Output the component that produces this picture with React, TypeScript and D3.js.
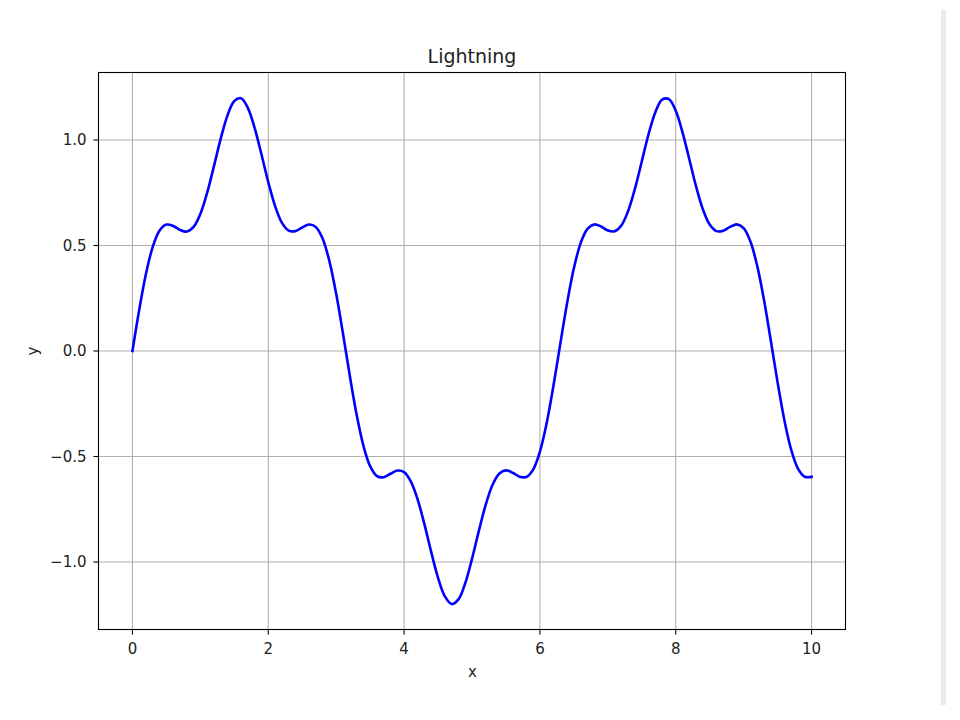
import React from "react";
import * as d3 from "d3";

const xValues: number[] = d3.range(0, 101).map((i) => i / 10);
const yValues: number[] = [
  0, 0.1957, 0.367, 0.495, 0.5713, 0.5991, 0.5928, 0.574, 0.566, 0.5878,
  0.6497, 0.7501, 0.8761, 1.0066, 1.1168, 1.1851, 1.1975, 1.1514, 1.0562, 0.9313,
  0.8005, 0.6873, 0.6085, 0.5706, 0.5682, 0.5852, 0.5995, 0.5882, 0.5331, 0.4262,
  0.2712, 0.0829, -0.116, -0.3001, -0.4478, -0.5458, -0.5927, -0.5983, -0.5819, -0.5667,
  -0.5742, -0.619, -0.7043, -0.8219, -0.9534, -1.0749, -1.1629, -1.1995, -1.1773, -1.1008,
  -0.9854, -0.854, -0.731, -0.6364, -0.5815, -0.5657, -0.5771, -0.5955, -0.5973, -0.5621,
  -0.477, -0.3408, -0.1639, 0.0336, 0.2268, 0.3919, 0.5115, 0.579, 0.5999, 0.5899,
  0.5714, 0.5672, 0.5954, 0.6641, 0.77, 0.8984, 1.0272, 1.1318, 1.1913, 1.1934,
  1.1384, 1.0367, 0.909, 0.7797, 0.6714, 0.5993, 0.5681, 0.5702, 0.5884, 0.6,
  0.5823, 0.5188, 0.4033, 0.2413, 0.0495, -0.1487, -0.328, -0.468, -0.5573, -0.5961,
  -0.5965,
];
const xTicks: number[] = [0, 2, 4, 6, 8, 10];
const xTickLabels: string[] = ["0", "2", "4", "6", "8", "10"];
const yTicks: number[] = [-1.0, -0.5, 0.0, 0.5, 1.0];
const yTickLabels: string[] = ["\u22121.0", "\u22120.5", "0.0", "0.5", "1.0"];
const title = "Lightning";
const xLabel = "x";
const yLabel = "y";

export default function App() {
  const W = 960;
  const H = 720;
  const left = 98.5;
  const right = 845.5;
  const top = 72.5;
  const bottom = 629.5;
  const x = d3.scaleLinear().domain([-0.5, 10.5]).range([left, right]);
  const y = d3.scaleLinear().domain([-1.32, 1.32]).range([bottom, top]);
  const pts: [number, number][] = xValues.map((v, i) => [v, yValues[i]]);
  const line = d3
    .line<[number, number]>()
    .x((d) => x(d[0]))
    .y((d) => y(d[1]))
    .curve(d3.curveCatmullRom.alpha(0.5));
  const font = "DejaVu Sans, sans-serif";
  const textColor = "#222";
  return (
    <svg
      width={W}
      height={H}
      style={{ position: "absolute", left: 0, top: 0, background: "#fff" }}
    >
      <rect x={0} y={0} width={W} height={H} fill="#fff" />
      <rect x={941} y={10} width={5} height={695} fill="#ebebeb" />
      <g>
        {xTicks.map((t) => (
          <line
            key={"gx" + t}
            x1={x(t)}
            x2={x(t)}
            y1={top}
            y2={bottom}
            stroke="#b0b0b0"
            strokeWidth={1.1}
          />
        ))}
        {yTicks.map((t) => (
          <line
            key={"gy" + t}
            x1={left}
            x2={right}
            y1={y(t)}
            y2={y(t)}
            stroke="#b0b0b0"
            strokeWidth={1.1}
          />
        ))}
      </g>
      <path
        d={line(pts) || ""}
        fill="none"
        stroke="#0000ff"
        strokeWidth={2.6}
        strokeLinejoin="round"
        strokeLinecap="square"
      />
      <rect
        x={left}
        y={top}
        width={right - left}
        height={bottom - top}
        fill="none"
        stroke="#000"
        strokeWidth={1.1}
      />
      {xTicks.map((t, i) => (
        <g key={"tx" + t}>
          <line x1={x(t)} x2={x(t)} y1={bottom} y2={bottom + 5} stroke="#000" strokeWidth={1.1} />
          <text
            x={x(t)}
            y={654}
            textAnchor="middle"
            fontFamily={font}
            fontSize={15}
            fill={textColor}
          >
            {xTickLabels[i]}
          </text>
        </g>
      ))}
      {yTicks.map((t, i) => (
        <g key={"ty" + t}>
          <line x1={left - 5} x2={left} y1={y(t)} y2={y(t)} stroke="#000" strokeWidth={1.1} />
          <text
            x={left - 12}
            y={y(t)}
            dy="0.36em"
            textAnchor="end"
            fontFamily={font}
            fontSize={15}
            fill={textColor}
          >
            {yTickLabels[i]}
          </text>
        </g>
      ))}
      <text
        x={(left + right) / 2}
        y={63}
        textAnchor="middle"
        fontFamily={font}
        fontSize={19}
        fill={textColor}
      >
        {title}
      </text>
      <text
        x={(left + right) / 2 + 0.5}
        y={677}
        textAnchor="middle"
        fontFamily={font}
        fontSize={15}
        fill={textColor}
      >
        {xLabel}
      </text>
      <text
        transform={`translate(37.5, ${(top + bottom) / 2}) rotate(-90)`}
        textAnchor="middle"
        fontFamily={font}
        fontSize={15}
        fill={textColor}
      >
        {yLabel}
      </text>
    </svg>
  );
}
